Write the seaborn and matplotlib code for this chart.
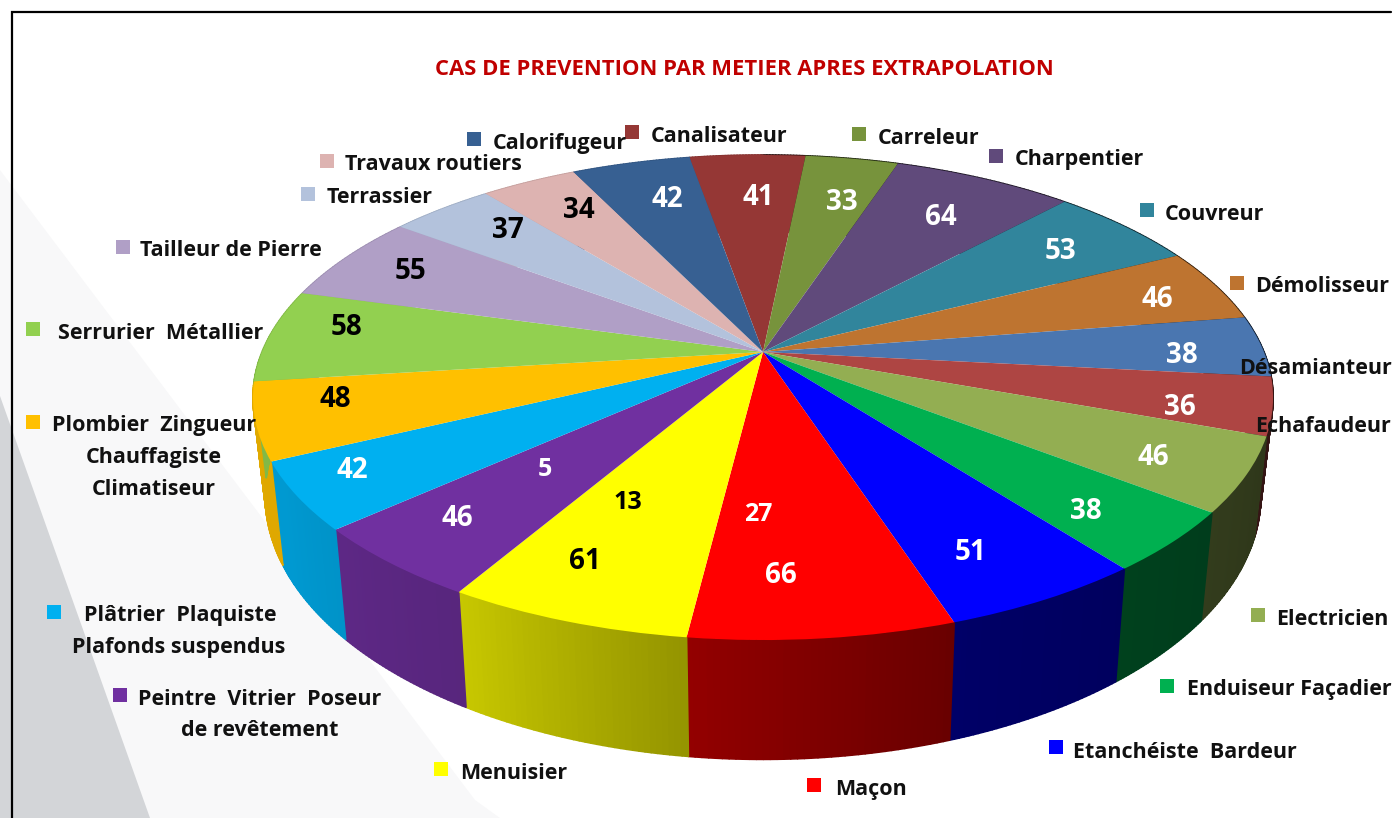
import numpy as np
import seaborn as sns
import matplotlib.pyplot as plt
from matplotlib.collections import PolyCollection
from matplotlib.transforms import Transform

# trades clockwise from the top of the pie
metiers = ["Canalisateur", "Carreleur", "Charpentier", "Couvreur", "Démolisseur", "Désamianteur",
           "Echafaudeur", "Electricien", "Enduiseur Façadier", "Etanchéiste  Bardeur", "Maçon", "Menuisier",
           "Peintre  Vitrier  Poseur", "Plâtrier  Plaquiste", "Plombier  Zingueur", "Serrurier  Métallier",
           "Tailleur de Pierre", "Terrassier", "Travaux routiers", "Calorifugeur"]
cas = [41, 33, 64, 53, 46, 38, 36, 46, 38, 51, 66, 61, 46, 42, 48, 58, 55, 37, 34, 42]
couleurs = ["#953735", "#77933C", "#604A7B", "#31859C", "#BE7430", "#4A76B0", "#AE4543", "#93AE52",
            "#00B050", "#0000FF", "#FF0000", "#FFFF00", "#7030A0", "#00B0F0", "#FFC000", "#92D050",
            "#B09FC6", "#B3C2DC", "#DDB3B1", "#376092"]
# three more numbers are written on the red, yellow and purple slices
cas_extra = [27, 13, 5]
titre = "CAS DE PREVENTION PAR METIER APRES EXTRAPOLATION"
lignes_extra = ["Chauffagiste", "Climatiseur", "Plafonds suspendus", "de revêtement"]

# where things go, in pixels of the picture
pos_valeurs = [(758, 195), (842, 200), (941, 215), (1060, 249), (1157, 297), (1182, 353), (1180, 405),
               (1153, 455), (1086, 509), (971, 550), (781, 573), (585, 559), (457, 516), (352, 468),
               (335, 397), (347, 325), (410, 269), (508, 228), (579, 208), (667, 197)]
noir = [False] * 11 + [True, False, False, True, True, True, True, True, False]
pos_extra = [(758, 512), (628, 500), (545, 467)]
noir_extra = [False, True, False]
pos_carres = [(632, 132), (859, 134), (996, 156), (1147, 210), (1237, 283), None, None, (1258, 615),
              (1167, 686), (1056, 747), (814, 785), (441, 769), (120, 695), (54, 612), (33, 422),
              (33, 329), (123, 247), (308, 194), (327, 161), (474, 139)]
pos_noms = [(651, 134), (878, 136), (1015, 157), (1165, 212), (1255, 284), (1239, 366), (1255, 424),
            (1276, 617), (1187, 687), (1073, 750), (835, 787), (460, 771), (138, 697), (84, 613),
            (52, 423), (58, 331), (140, 248), (327, 195), (345, 162), (493, 141)]
pos_lignes = [(154, 455), (154, 487), (179, 645), (260, 728)]

# perspective of the top face
CX, CY = 763, 352
A, B, K = 501, 234, 0.1876


class Perspective(Transform):
    input_dims = 2
    output_dims = 2

    def transform_non_affine(self, values):
        values = np.asarray(values, dtype=float)
        x, y = values[:, 0], values[:, 1]
        w = 1 + K * y
        return np.column_stack([CX + A * x / w, CY - B * y / w])


def main():
    sns.set_theme(style="white")
    plt.rcParams["font.family"] = ["Open Sans", "DejaVu Sans"]
    plt.rcParams["font.weight"] = "bold"
    palette = sns.color_palette(couleurs)

    fig = plt.figure(figsize=(13.93, 8.18), dpi=100)
    ax = fig.add_axes([0, 0, 1, 1])

    wedges, _ = ax.pie(cas, colors=palette, startangle=100, counterclock=False, radius=1)
    ax.set_aspect("auto")
    ax.set_xlim(0, 1393)
    ax.set_ylim(818, 0)
    ax.axis("off")

    # grey shapes behind everything
    ax.fill([0, 0, 500, 475], [170, 818, 818, 800], color="#F8F8F9", lw=0, zorder=0)
    ax.fill([0, 0, 150], [396, 818, 818], color="#D3D5D8", lw=0, zorder=0.1)

    persp = Perspective()
    for w in wedges:
        w.set_transform(persp + ax.transData)
        w.set_zorder(3)
        w.set_edgecolor("none")

    # side wall: strips between the top rim and a smaller, lower rim
    polys, cols = [], []
    for w, c in zip(wedges, palette):
        t = np.radians(np.linspace(w.theta1, w.theta2, 40))
        haut = persp.transform(np.column_stack([np.cos(t), np.sin(t)]))
        bas = np.column_stack([CX + 0.976 * (haut[:, 0] - CX), CY + 1.088 * (haut[:, 1] - CY) + 94])
        cw = (90 - np.degrees(t)) % 360  # angle clockwise from the top
        ombre = np.interp(cw, [100, 160, 186, 210, 240, 280], [0.3, 0.4, 0.57, 0.78, 0.87, 0.9])
        for i in range(len(t) - 1):
            polys.append([haut[i], haut[i + 1], bas[i + 1], bas[i]])
            cols.append(tuple(np.array(c) * (ombre[i] + ombre[i + 1]) / 2))
    ax.add_collection(PolyCollection(polys, facecolors=cols, edgecolors="face", linewidths=1.2, zorder=2))

    # frame of the slide
    ax.plot([12, 12, 1391], [818, 12, 12], color="black", lw=1.6, zorder=1, solid_joinstyle="miter")

    ax.text(744, 75, titre, color="#C00000", fontsize=15.8, ha="center", va="baseline", zorder=5)

    for v, p, n in zip(cas, pos_valeurs, noir):
        ax.text(p[0], p[1] + 10, str(v), color="black" if n else "white", fontsize=20,
                ha="center", va="baseline", zorder=5)
    for v, p, n in zip(cas_extra, pos_extra, noir_extra):
        ax.text(p[0], p[1] + 9, str(v), color="black" if n else "white", fontsize=18,
                ha="center", va="baseline", zorder=5)

    for nom, p, c, q in zip(metiers, pos_noms, palette, pos_carres):
        ax.text(p[0], p[1] + 8, nom, color="#111111", fontsize=15.5, ha="left", va="baseline", zorder=6)
        if q is not None:
            ax.scatter(q[0], q[1], marker="s", s=100, color=c, linewidths=0, zorder=6)
    for txt, p in zip(lignes_extra, pos_lignes):
        ax.text(p[0], p[1] + 8, txt, color="#111111", fontsize=15.5, ha="center", va="baseline", zorder=6)

    fig.savefig("out.png", dpi=100, facecolor="white")


if __name__ == '__main__':
    main()
